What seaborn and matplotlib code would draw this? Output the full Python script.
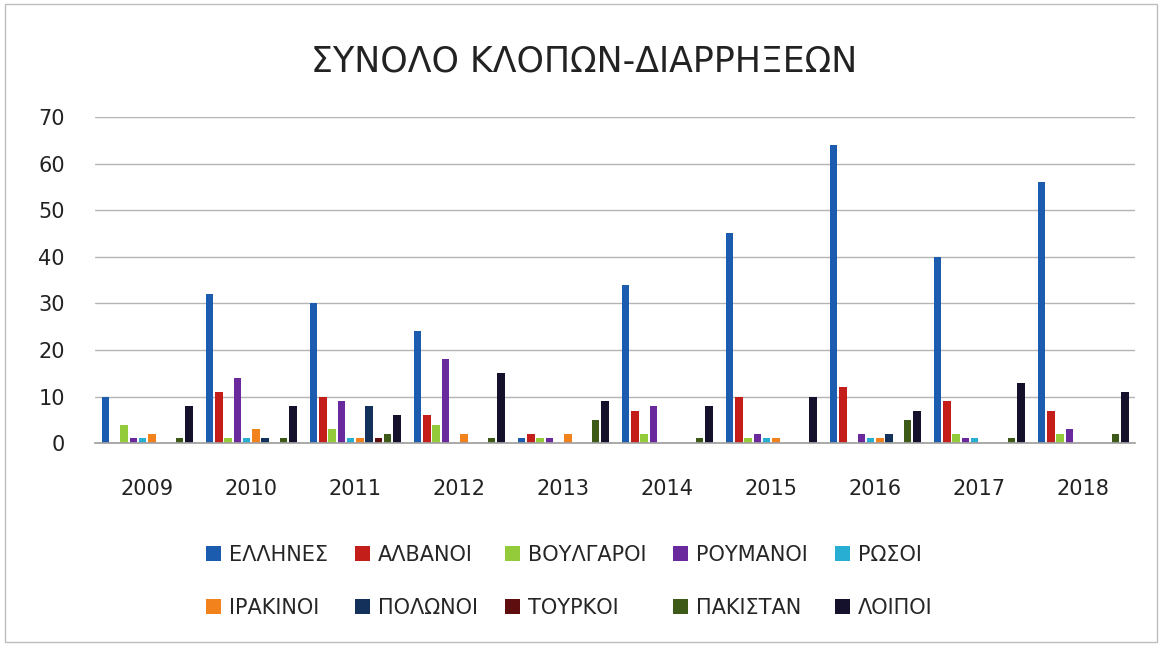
import pandas as pd
import matplotlib
matplotlib.use("Agg")
import matplotlib.pyplot as plt
from matplotlib import font_manager
from matplotlib.patches import Rectangle
import seaborn as sns

# ── Data ──────────────────────────────────────────────────────────────
years = ["2009", "2010", "2011", "2012", "2013", "2014", "2015", "2016", "2017", "2018"]
groups = ["ΕΛΛΗΝΕΣ", "ΑΛΒΑΝΟΙ", "ΒΟΥΛΓΑΡΟΙ", "ΡΟΥΜΑΝΟΙ", "ΡΩΣΟΙ",
          "ΙΡΑΚΙΝΟΙ", "ΠΟΛΩΝΟΙ", "ΤΟΥΡΚΟΙ", "ΠΑΚΙΣΤΑΝ", "ΛΟΙΠΟΙ"]

ellines = [10, 32, 30, 24, 1, 34, 45, 64, 40, 56]
alvanoi = [0, 11, 10, 6, 2, 7, 10, 12, 9, 7]
voulgaroi = [4, 1, 3, 4, 1, 2, 1, 0, 2, 2]
roumanoi = [1, 14, 9, 18, 1, 8, 2, 2, 1, 3]
rosoi = [1, 1, 1, 0, 0, 0, 1, 1, 1, 0]
irakinoi = [2, 3, 1, 2, 2, 0, 1, 1, 0, 0]
polonoi = [0, 1, 8, 0, 0, 0, 0, 2, 0, 0]
tourkoi = [0, 0, 1, 0, 0, 0, 0, 0, 0, 0]
pakistan = [1, 1, 2, 1, 5, 1, 0, 5, 1, 2]
loipoi = [8, 8, 6, 15, 9, 8, 10, 7, 13, 11]

series = [ellines, alvanoi, voulgaroi, roumanoi, rosoi,
          irakinoi, polonoi, tourkoi, pakistan, loipoi]

colors = ["#1c5cae", "#c41e1a", "#94cb3a", "#6a2a9e", "#27aed2",
          "#f2831c", "#13315a", "#5e0e0e", "#3d5a18", "#15102c"]

rows = []
for name, vals in zip(groups, series):
    for yr, v in zip(years, vals):
        rows.append({"year": yr, "group": name, "value": v})
df = pd.DataFrame(rows)

# ── Style ─────────────────────────────────────────────────────────────
sns.set_theme(style="white")
installed = {f.name for f in font_manager.fontManager.ttflist}
main_font = "Liberation Sans Narrow" if "Liberation Sans Narrow" in installed else "DejaVu Sans"
plt.rcParams["font.family"] = [main_font, "DejaVu Sans"]

fig = plt.figure(figsize=(11.62, 6.46), dpi=100)
ax = fig.add_axes([0.082, 0.314, 0.895, 0.505])

sns.barplot(data=df, x="year", y="value", hue="group", hue_order=groups,
            palette=colors, saturation=1, width=0.89, gap=0.18, linewidth=0,
            errorbar=None, ax=ax, legend=True)

ax.set_ylim(0, 70)
ax.set_yticks(range(0, 71, 10))
ax.yaxis.grid(True, color="#b4b4b4", linewidth=1)
ax.set_axisbelow(True)
for s in ["top", "right", "left"]:
    ax.spines[s].set_visible(False)
ax.spines["bottom"].set_color("#a0a0a0")
ax.set_xlabel("")
ax.set_ylabel("")
ax.tick_params(axis="x", labelsize=15, pad=26, length=0, colors="#222222")
ax.tick_params(axis="y", labelsize=15, pad=22, length=0, colors="#222222")

# title sits a bit left of the plot centre in the reference
fig.text(0.503, 0.905, "ΣΥΝΟΛΟ ΚΛΟΠΩΝ-ΔΙΑΡΡΗΞΕΩΝ", fontsize=25,
         color="#222222", ha="center", va="center")

# legend reads row by row in the reference, matplotlib fills columns first
handles, labels = ax.get_legend_handles_labels()
ax.get_legend().remove()
order = [0, 5, 1, 6, 2, 7, 3, 8, 4, 9]
fig.legend([handles[i] for i in order], [labels[i] for i in order],
           loc="center", bbox_to_anchor=(0.49, 0.1),
           ncol=5, frameon=False, fontsize=15, handlelength=0.7,
           handleheight=0.7, handletextpad=0.4, columnspacing=1.3,
           labelspacing=1.6)

# outer chart border
fig.add_artist(Rectangle((0.004, 0.006), 0.992, 0.988, transform=fig.transFigure,
                         fill=False, edgecolor="#bdbdbd", linewidth=1))

fig.savefig("out.png", dpi=100)
